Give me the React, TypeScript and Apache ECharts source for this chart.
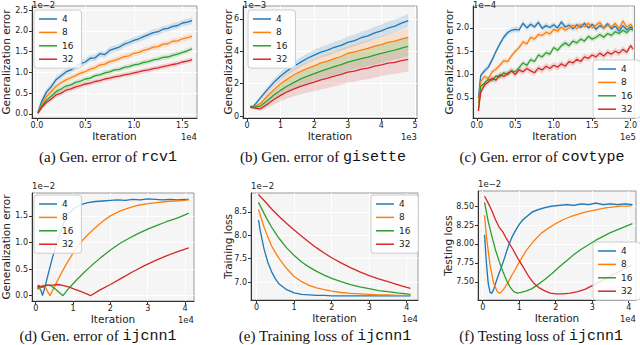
import React, { useEffect, useRef } from 'react';
import * as echarts from 'echarts';

const SERIES_NAMES = ['4', '8', '16', '32'];
const COLORS = ['#1f77b4', '#ff7f0e', '#2ca02c', '#d62728'];

// (a) Gen. error of rcv1  (x: 1e4, y: 1e-2)
const aX = [0.01, 0.05, 0.1, 0.15, 0.2, 0.25, 0.3, 0.35, 0.4, 0.45, 0.5, 0.55, 0.6, 0.65, 0.7, 0.75, 0.8, 0.85, 0.9, 0.95, 1.0, 1.05, 1.1, 1.15, 1.2, 1.25, 1.3, 1.35, 1.4, 1.45, 1.5, 1.55, 1.6];
const aY4 = [0.03, 0.30, 0.53, 0.66, 0.83, 0.92, 1.01, 1.06, 1.13, 1.21, 1.25, 1.34, 1.35, 1.45, 1.43, 1.53, 1.57, 1.61, 1.68, 1.72, 1.77, 1.81, 1.86, 1.91, 1.96, 1.98, 2.04, 2.06, 2.11, 2.13, 2.19, 2.21, 2.25];
const aY8 = [0.02, 0.22, 0.42, 0.54, 0.67, 0.75, 0.82, 0.87, 0.92, 0.98, 1.02, 1.08, 1.11, 1.18, 1.20, 1.26, 1.29, 1.33, 1.38, 1.40, 1.46, 1.48, 1.53, 1.56, 1.61, 1.62, 1.68, 1.69, 1.75, 1.76, 1.81, 1.84, 1.87];
const aY16 = [0.02, 0.18, 0.33, 0.43, 0.54, 0.60, 0.67, 0.70, 0.76, 0.79, 0.84, 0.86, 0.92, 0.94, 0.99, 1.01, 1.06, 1.07, 1.12, 1.14, 1.18, 1.20, 1.24, 1.26, 1.30, 1.32, 1.36, 1.37, 1.41, 1.44, 1.48, 1.52, 1.57];
const aY32 = [0.02, 0.15, 0.28, 0.36, 0.46, 0.50, 0.57, 0.60, 0.65, 0.68, 0.72, 0.74, 0.78, 0.80, 0.84, 0.86, 0.89, 0.91, 0.94, 0.96, 0.99, 1.01, 1.04, 1.06, 1.09, 1.11, 1.14, 1.16, 1.19, 1.21, 1.25, 1.27, 1.31];
const aSpread = [0.08, 0.07, 0.06, 0.06];

// (b) Gen. error of gisette  (x: 1e3, y: 1e-3)
const bX = [0.1, 0.2, 0.4, 0.6, 0.8, 1.0, 1.2, 1.4, 1.6, 1.8, 2.0, 2.2, 2.4, 2.6, 2.8, 3.0, 3.2, 3.4, 3.6, 3.8, 4.0, 4.2, 4.4, 4.6, 4.8];
const bY4 = [0.55, 0.62, 1.12, 1.62, 2.08, 2.47, 2.80, 3.08, 3.33, 3.57, 3.77, 3.95, 4.07, 4.25, 4.37, 4.55, 4.66, 4.84, 4.96, 5.14, 5.26, 5.44, 5.56, 5.74, 5.90];
const bY8 = [0.55, 0.55, 0.78, 1.22, 1.62, 2.00, 2.28, 2.55, 2.76, 2.95, 3.10, 3.28, 3.40, 3.55, 3.68, 3.88, 3.96, 4.08, 4.18, 4.32, 4.42, 4.55, 4.63, 4.76, 4.86];
const bY16 = [0.60, 0.55, 0.62, 0.95, 1.30, 1.60, 1.86, 2.08, 2.30, 2.47, 2.62, 2.78, 2.92, 3.06, 3.18, 3.33, 3.44, 3.55, 3.64, 3.76, 3.88, 3.98, 4.08, 4.20, 4.30];
const bY32 = [0.55, 0.50, 0.45, 0.72, 1.02, 1.28, 1.50, 1.68, 1.84, 1.98, 2.10, 2.24, 2.34, 2.47, 2.57, 2.72, 2.78, 2.90, 2.96, 3.08, 3.16, 3.27, 3.32, 3.42, 3.50];
const bS4 = [0.08, 0.1, 0.15, 0.2, 0.22, 0.25, 0.27, 0.28, 0.3, 0.3, 0.32, 0.33, 0.34, 0.35, 0.35, 0.36, 0.37, 0.37, 0.38, 0.38, 0.39, 0.4, 0.4, 0.4, 0.42];
const bS8 = [0.08, 0.1, 0.15, 0.22, 0.27, 0.3, 0.33, 0.36, 0.38, 0.4, 0.42, 0.43, 0.45, 0.46, 0.47, 0.48, 0.49, 0.5, 0.5, 0.51, 0.52, 0.52, 0.53, 0.54, 0.55];
const bS16 = [0.08, 0.1, 0.14, 0.22, 0.28, 0.33, 0.36, 0.4, 0.42, 0.44, 0.46, 0.48, 0.5, 0.51, 0.52, 0.53, 0.54, 0.55, 0.56, 0.57, 0.58, 0.58, 0.59, 0.6, 0.6];
const bS32 = [0.08, 0.1, 0.12, 0.22, 0.3, 0.36, 0.42, 0.46, 0.5, 0.53, 0.56, 0.58, 0.6, 0.62, 0.63, 0.65, 0.66, 0.67, 0.68, 0.69, 0.7, 0.71, 0.72, 0.73, 0.74];

// (c) Gen. error of covtype  (x: 1e5, y: 1e-4)
const cX = [0.02, 0.05, 0.10, 0.15, 0.20, 0.25, 0.30, 0.35, 0.40, 0.45, 0.50, 0.55, 0.60, 0.65, 0.70, 0.75, 0.80, 0.85, 0.90, 0.95, 1.00, 1.05, 1.10, 1.15, 1.20, 1.25, 1.30, 1.35, 1.40, 1.45, 1.50, 1.55, 1.60, 1.65, 1.70, 1.75, 1.80, 1.85, 1.90, 1.95, 2.00, 2.03];
const cY4 = [0.50, 0.98, 1.08, 1.16, 1.32, 1.50, 1.66, 1.80, 1.90, 1.95, 1.97, 1.96, 2.10, 2.00, 2.08, 2.02, 2.12, 1.99, 2.05, 2.01, 2.07, 2.00, 2.13, 2.02, 2.06, 1.98, 2.07, 2.01, 2.10, 2.00, 2.08, 1.97, 2.05, 2.00, 2.09, 1.98, 2.04, 1.93, 2.05, 1.96, 2.02, 1.98];
const cY8 = [0.40, 0.85, 0.96, 0.92, 1.06, 1.12, 1.20, 1.30, 1.28, 1.40, 1.50, 1.58, 1.70, 1.66, 1.80, 1.76, 1.86, 1.84, 1.91, 1.87, 1.97, 1.93, 2.02, 1.95, 2.00, 2.06, 1.98, 2.08, 2.02, 2.10, 2.00, 2.06, 2.12, 1.99, 2.06, 2.02, 2.10, 1.99, 2.15, 2.02, 2.08, 2.00];
const cY16 = [0.22, 0.75, 0.82, 0.90, 0.88, 0.97, 0.95, 1.04, 1.00, 1.08, 1.06, 1.15, 1.25, 1.20, 1.32, 1.28, 1.42, 1.38, 1.47, 1.44, 1.58, 1.52, 1.62, 1.68, 1.62, 1.72, 1.68, 1.76, 1.72, 1.82, 1.76, 1.80, 1.86, 1.80, 1.88, 1.84, 1.92, 1.88, 1.95, 1.90, 1.98, 1.95];
const cY32 = [0.22, 0.62, 0.78, 0.84, 0.92, 0.88, 1.00, 0.96, 1.03, 1.08, 1.00, 1.10, 1.06, 1.13, 1.08, 1.04, 1.14, 1.10, 1.18, 1.13, 1.20, 1.16, 1.23, 1.18, 1.28, 1.25, 1.33, 1.28, 1.38, 1.35, 1.42, 1.38, 1.46, 1.40, 1.48, 1.44, 1.50, 1.46, 1.54, 1.48, 1.62, 1.55];
const cSpread = [0.06, 0.06, 0.06, 0.07];

// (d) Gen. error of ijcnn1  (x: 1e4, y: 1e-2)
const dX4 = [0.05, 0.08, 0.11, 0.15, 0.18, 0.25, 0.35, 0.45, 0.55, 0.65, 0.75, 0.85, 1.0, 1.2, 1.4, 1.6, 1.8, 2.0, 2.2, 2.4, 2.6, 2.8, 3.0, 3.2, 3.4, 3.6, 3.8, 4.0, 4.1];
const dY4 = [0.15, 0.20, 0.14, 0.08, 0.00, 0.17, 0.45, 0.72, 0.95, 1.17, 1.36, 1.52, 1.63, 1.71, 1.75, 1.77, 1.78, 1.79, 1.80, 1.79, 1.81, 1.80, 1.82, 1.81, 1.80, 1.81, 1.80, 1.81, 1.81];
const dX8 = [0.05, 0.1, 0.15, 0.2, 0.25, 0.3, 0.38, 0.5, 0.6, 0.8, 1.0, 1.2, 1.4, 1.6, 1.8, 2.0, 2.25, 2.5, 2.75, 3.0, 3.25, 3.5, 3.75, 4.0, 4.1];
const dY8 = [0.15, 0.12, 0.18, 0.20, 0.17, 0.10, 0.00, 0.17, 0.31, 0.57, 0.80, 1.00, 1.15, 1.28, 1.40, 1.50, 1.59, 1.65, 1.70, 1.73, 1.75, 1.77, 1.78, 1.79, 1.80];
const dX16 = [0.05, 0.1, 0.2, 0.3, 0.4, 0.5, 0.6, 0.73, 0.9, 1.1, 1.3, 1.5, 1.75, 2.0, 2.25, 2.5, 2.75, 3.0, 3.25, 3.5, 3.75, 4.0, 4.1];
const dY16 = [0.12, 0.18, 0.16, 0.20, 0.19, 0.14, 0.08, 0.00, 0.15, 0.30, 0.44, 0.57, 0.72, 0.86, 0.98, 1.08, 1.17, 1.25, 1.32, 1.39, 1.45, 1.52, 1.55];
const dX32 = [0.05, 0.15, 0.3, 0.45, 0.6, 0.75, 0.9, 1.05, 1.2, 1.35, 1.47, 1.7, 2.0, 2.3, 2.6, 2.9, 3.2, 3.5, 3.8, 4.1];
const dY32 = [0.18, 0.16, 0.20, 0.20, 0.21, 0.19, 0.16, 0.12, 0.08, 0.04, 0.00, 0.10, 0.21, 0.33, 0.45, 0.56, 0.66, 0.75, 0.83, 0.90];

// (e) Training loss of ijcnn1  (x: 1e4, y: 1e-2)
const eX = [0.05, 0.1, 0.2, 0.3, 0.4, 0.5, 0.6, 0.8, 1.0, 1.2, 1.4, 1.6, 1.8, 2.0, 2.25, 2.5, 2.75, 3.0, 3.25, 3.5, 3.75, 4.0, 4.1];
const eY4 = [8.32, 8.08, 7.70, 7.42, 7.22, 7.07, 6.96, 6.84, 6.77, 6.74, 6.73, 6.72, 6.72, 6.71, 6.71, 6.71, 6.71, 6.71, 6.71, 6.71, 6.71, 6.71, 6.71];
const eY8 = [8.55, 8.42, 8.17, 7.96, 7.77, 7.63, 7.50, 7.29, 7.12, 7.01, 6.93, 6.88, 6.84, 6.81, 6.78, 6.76, 6.75, 6.74, 6.73, 6.73, 6.72, 6.72, 6.72];
const eY16 = [8.70, 8.62, 8.46, 8.31, 8.17, 8.05, 7.93, 7.73, 7.57, 7.43, 7.32, 7.23, 7.15, 7.08, 7.01, 6.95, 6.90, 6.86, 6.82, 6.80, 6.77, 6.75, 6.74];
const eY32 = [8.87, 8.82, 8.74, 8.65, 8.56, 8.48, 8.40, 8.25, 8.11, 7.98, 7.85, 7.73, 7.62, 7.52, 7.41, 7.31, 7.22, 7.14, 7.07, 7.01, 6.95, 6.89, 6.87];

// (f) Testing loss of ijcnn1  (x: 1e4, y: 1e-2)
const fX4 = [0.05, 0.1, 0.15, 0.2, 0.25, 0.3, 0.4, 0.5, 0.6, 0.7, 0.8, 0.9, 1.0, 1.1, 1.2, 1.35, 1.5, 1.7, 1.9, 2.1, 2.3, 2.5, 2.7, 2.9, 3.1, 3.3, 3.5, 3.7, 3.9, 4.1];
const fY4 = [8.12, 7.75, 7.48, 7.36, 7.35, 7.40, 7.55, 7.68, 7.82, 7.97, 8.09, 8.18, 8.26, 8.32, 8.36, 8.42, 8.45, 8.48, 8.50, 8.51, 8.52, 8.51, 8.53, 8.52, 8.54, 8.52, 8.53, 8.52, 8.53, 8.52];
const fX8 = [0.05, 0.1, 0.2, 0.3, 0.4, 0.45, 0.5, 0.6, 0.7, 0.8, 0.9, 1.0, 1.2, 1.4, 1.6, 1.8, 2.0, 2.2, 2.4, 2.6, 2.8, 3.0, 3.2, 3.4, 3.6, 3.8, 4.0, 4.1];
const fY8 = [8.38, 8.10, 7.72, 7.48, 7.37, 7.35, 7.36, 7.42, 7.50, 7.59, 7.67, 7.76, 7.92, 8.04, 8.14, 8.21, 8.27, 8.32, 8.36, 8.39, 8.42, 8.44, 8.46, 8.48, 8.49, 8.50, 8.50, 8.51];
const fX16 = [0.05, 0.15, 0.25, 0.35, 0.45, 0.55, 0.65, 0.75, 0.85, 0.95, 1.05, 1.2, 1.35, 1.5, 1.7, 1.9, 2.1, 2.3, 2.5, 2.7, 2.9, 3.1, 3.3, 3.5, 3.7, 3.9, 4.1];
const fY16 = [8.55, 8.30, 8.10, 7.92, 7.77, 7.64, 7.52, 7.43, 7.37, 7.35, 7.36, 7.38, 7.41, 7.46, 7.53, 7.61, 7.70, 7.78, 7.86, 7.93, 7.99, 8.05, 8.10, 8.15, 8.19, 8.23, 8.27];
const fX32 = [0.05, 0.15, 0.25, 0.35, 0.45, 0.55, 0.65, 0.8, 0.95, 1.1, 1.25, 1.4, 1.55, 1.7, 1.85, 2.0, 2.2, 2.4, 2.6, 2.8, 3.0, 3.2, 3.4, 3.6, 3.8, 4.0, 4.1];
const fY32 = [8.63, 8.54, 8.44, 8.32, 8.22, 8.16, 8.07, 7.95, 7.82, 7.70, 7.58, 7.48, 7.42, 7.38, 7.35, 7.34, 7.34, 7.35, 7.37, 7.40, 7.45, 7.50, 7.55, 7.60, 7.65, 7.70, 7.72];
const fSpread4 = 0.015;

// Axis ticks
const aXTicks = [0, 0.5, 1.0, 1.5];
const aYTicks = [0, 0.5, 1.0, 1.5, 2.0, 2.5];
const bXTicks = [0, 1, 2, 3, 4, 5];
const bYTicks = [0, 2, 4, 6];
const cXTicks = [0, 0.5, 1.0, 1.5, 2.0];
const cYTicks = [0.5, 1.0, 1.5, 2.0];
const dXTicks = [0, 1, 2, 3, 4];
const dYTicks = [0, 0.5, 1.0, 1.5];
const eXTicks = [0, 1, 2, 3, 4];
const eYTicks = [7.0, 7.5, 8.0, 8.5];
const fXTicks = [0, 1, 2, 3, 4];
const fYTicks = [7.5, 7.75, 8.0, 8.25, 8.5];

const FONT = 'DejaVu Sans';

type Line = { x: number[]; y: number[] };
type Band = { k: number; x: number[]; y: number[]; s: number[] };

const constSpread = (n: number, v: number) => new Array(n).fill(v);

const panels = [
  {
    grid: { left: 32, top: 6, width: 165, height: 112 },
    x: { min: -0.05, max: 1.65, ticks: aXTicks, d: 1 },
    y: { min: -0.1, max: 2.6, ticks: aYTicks, d: 1 },
    lines: [{ x: aX, y: aY4 }, { x: aX, y: aY8 }, { x: aX, y: aY16 }, { x: aX, y: aY32 }] as Line[],
    bands: [aY4, aY8, aY16, aY32].map((y, k) => ({ k, x: aX, y, s: constSpread(aX.length, aSpread[k]) })) as Band[],
    legend: { left: 34, top: 10 },
    yLabel: 'Generalization error', yLabelX: 6,
    xOff: '1e4', yOff: '1e\u22122',
    caption: { pre: '(a) Gen. error of ', mono: 'rcv1', x: 108, y: 157 },
  },
  {
    grid: { left: 243, top: 6, width: 174, height: 112 },
    x: { min: -0.12, max: 5.06, ticks: bXTicks, d: 0 },
    y: { min: -0.12, max: 6.8, ticks: bYTicks, d: 0 },
    lines: [{ x: bX, y: bY4 }, { x: bX, y: bY8 }, { x: bX, y: bY16 }, { x: bX, y: bY32 }] as Line[],
    bands: [
      { k: 0, x: bX, y: bY4, s: bS4 },
      { k: 1, x: bX, y: bY8, s: bS8 },
      { k: 2, x: bX, y: bY16, s: bS16 },
      { k: 3, x: bX, y: bY32, s: bS32 },
    ] as Band[],
    legend: { left: 248, top: 10 },
    yLabel: 'Generalization error', yLabelX: 228,
    xOff: '1e3', yOff: '1e\u22123',
    caption: { pre: '(b) Gen. error of ', mono: 'gisette', x: 323, y: 157 },
  },
  {
    grid: { left: 473, top: 6, width: 163, height: 112 },
    x: { min: -0.05, max: 2.05, ticks: cXTicks, d: 1 },
    y: { min: 0.07, max: 2.47, ticks: cYTicks, d: 1 },
    lines: [{ x: cX, y: cY4 }, { x: cX, y: cY8 }, { x: cX, y: cY16 }, { x: cX, y: cY32 }] as Line[],
    bands: [cY4, cY8, cY16, cY32].map((y, k) => ({ k, x: cX, y, s: constSpread(cX.length, cSpread[k]) })) as Band[],
    legend: { left: 593, top: 60 },
    yLabel: 'Generalization error', yLabelX: 449,
    xOff: '1e5', yOff: '1e\u22124',
    caption: { pre: '(c) Gen. error of ', mono: 'covtype', x: 542, y: 157 },
  },
  {
    grid: { left: 32, top: 193, width: 162, height: 108 },
    x: { min: -0.1, max: 4.24, ticks: dXTicks, d: 0 },
    y: { min: -0.1, max: 1.93, ticks: dYTicks, d: 1 },
    lines: [{ x: dX4, y: dY4 }, { x: dX8, y: dY8 }, { x: dX16, y: dY16 }, { x: dX32, y: dY32 }] as Line[],
    bands: [] as Band[],
    legend: { left: 34, top: 195 },
    yLabel: 'Generalization error', yLabelX: 6,
    xOff: '1e4', yOff: '1e\u22122',
    caption: { pre: '(d) Gen. error of ', mono: 'ijcnn1', x: 98, y: 336 },
  },
  {
    grid: { left: 251, top: 193, width: 167, height: 107 },
    x: { min: -0.15, max: 4.3, ticks: eXTicks, d: 0 },
    y: { min: 6.62, max: 8.9, ticks: eYTicks, d: 1 },
    lines: [{ x: eX, y: eY4 }, { x: eX, y: eY8 }, { x: eX, y: eY16 }, { x: eX, y: eY32 }] as Line[],
    bands: [] as Band[],
    legend: { left: 371, top: 195 },
    yLabel: 'Training loss', yLabelX: 228,
    xOff: '1e4', yOff: '1e\u22122',
    caption: { pre: '(e) Training loss of ', mono: 'ijcnn1', x: 325, y: 336 },
  },
  {
    grid: { left: 478, top: 191, width: 158, height: 109 },
    x: { min: -0.13, max: 4.2, ticks: fXTicks, d: 0 },
    y: { min: 7.26, max: 8.7, ticks: fYTicks, d: 2 },
    lines: [{ x: fX4, y: fY4 }, { x: fX8, y: fY8 }, { x: fX16, y: fY16 }, { x: fX32, y: fY32 }] as Line[],
    bands: [{ k: 0, x: fX4, y: fY4, s: constSpread(fX4.length, fSpread4) }] as Band[],
    legend: { left: 593, top: 242 },
    yLabel: 'Testing loss', yLabelX: 448,
    xOff: '1e4', yOff: '1e\u22122',
    caption: { pre: '(f) Testing loss of ', mono: 'ijcnn1', x: 541, y: 336 },
  },
];

function buildOption() {
  const grid: any[] = [];
  const xAxis: any[] = [];
  const yAxis: any[] = [];
  const series: any[] = [];
  const legend: any[] = [];
  const graphic: any[] = [];

  panels.forEach((p, i) => {
    grid.push({
      ...p.grid,
      show: true,
      backgroundColor: '#f5f5f5',
      borderColor: '#999',
      borderWidth: 1,
      containLabel: false,
    });
    const axisCommon = {
      axisLine: { show: true, onZero: false, lineStyle: { color: '#333', width: 1 } },
      splitLine: { show: true, lineStyle: { color: '#ffffff', width: 1 } },
    };
    xAxis.push({
      type: 'value', gridIndex: i, min: p.x.min, max: p.x.max,
      ...axisCommon,
      axisTick: { show: true, customValues: p.x.ticks, length: 3, lineStyle: { color: '#333' } },
      axisLabel: {
        customValues: p.x.ticks, margin: 3, fontSize: 8, fontFamily: FONT, color: '#222',
        formatter: (v: number) => v.toFixed(p.x.d),
      },
    });
    yAxis.push({
      type: 'value', gridIndex: i, min: p.y.min, max: p.y.max,
      ...axisCommon,
      axisTick: { show: true, customValues: p.y.ticks, length: 3, lineStyle: { color: '#333' } },
      axisLabel: {
        customValues: p.y.ticks, margin: 4, fontSize: 8, fontFamily: FONT, color: '#222',
        formatter: (v: number) => v.toFixed(p.y.d),
      },
    });

    p.bands.forEach((b) => {
      const hi = b.y.map((v, j) => v + b.s[j]);
      const lo = b.y.map((v, j) => v - b.s[j]);
      series.push({
        type: 'custom', name: 'band' + i + '_' + b.k, xAxisIndex: i, yAxisIndex: i,
        silent: true, z: 1, clip: true,
        data: [[b.x[0], b.y[0]]],
        renderItem: (_params: any, api: any) => {
          const pts: number[][] = [];
          for (let j = 0; j < b.x.length; j++) pts.push(api.coord([b.x[j], hi[j]]));
          for (let j = b.x.length - 1; j >= 0; j--) pts.push(api.coord([b.x[j], lo[j]]));
          return { type: 'polygon', shape: { points: pts }, style: { fill: COLORS[b.k], opacity: 0.17 } };
        },
      });
    });

    p.lines.forEach((l, k) => {
      series.push({
        type: 'line', name: SERIES_NAMES[k], xAxisIndex: i, yAxisIndex: i,
        showSymbol: false, symbol: 'none', z: 3, clip: true,
        lineStyle: { width: 1.3, color: COLORS[k] },
        itemStyle: { color: COLORS[k] },
        data: l.x.map((x, j) => [x, l.y[j]]),
      });
    });

    legend.push({
      data: SERIES_NAMES, orient: 'vertical', left: p.legend.left, top: p.legend.top,
      icon: 'rect', itemWidth: 18, itemHeight: 1.5, itemGap: 3.4, selectedMode: false,
      textStyle: { fontSize: 9, fontFamily: FONT, color: '#222', lineHeight: 10 },
      backgroundColor: 'rgba(255,255,255,0.85)', borderColor: '#cccccc', borderWidth: 1,
      borderRadius: 3, padding: [4, 8, 4, 5],
    });

    const g = p.grid;
    graphic.push({
      type: 'text', x: p.yLabelX, y: g.top + g.height / 2, rotation: Math.PI / 2,
      style: { text: p.yLabel, font: `10.5px "${FONT}"`, fill: '#222', align: 'center', verticalAlign: 'middle' },
    });
    graphic.push({
      type: 'text', x: g.left + g.width / 2, y: g.top + g.height + 18,
      style: { text: 'Iteration', font: `10.5px "${FONT}"`, fill: '#222', align: 'center', verticalAlign: 'middle' },
    });
    graphic.push({
      type: 'text', x: g.left + g.width, y: g.top + g.height + 19,
      style: { text: p.xOff, font: `8.5px "${FONT}"`, fill: '#222', align: 'right', verticalAlign: 'middle' },
    });
    graphic.push({
      type: 'text', x: g.left, y: Math.max(g.top - 7, 4.5),
      style: { text: p.yOff, font: `8.5px "${FONT}"`, fill: '#222', align: 'left', verticalAlign: 'middle' },
    });
    graphic.push({
      type: 'text', x: p.caption.x, y: p.caption.y,
      style: {
        text: `{s|${p.caption.pre}}{m|${p.caption.mono}}`,
        align: 'center', verticalAlign: 'middle',
        rich: {
          s: { fontFamily: 'Liberation Serif', fontSize: 15, fill: '#111', color: '#111' },
          m: { fontFamily: 'Liberation Mono', fontSize: 15, fill: '#111', color: '#111' },
        },
      },
    });
  });

  return { animation: false, backgroundColor: '#ffffff', grid, xAxis, yAxis, series, legend, graphic };
}

export default function App() {
  const ref = useRef<HTMLDivElement>(null);
  useEffect(() => {
    if (!ref.current) return;
    const chart = echarts.init(ref.current, undefined, { renderer: 'svg' });
    chart.setOption(buildOption() as any);
    return () => chart.dispose();
  }, []);
  return (
    <div
      ref={ref}
      style={{ position: 'fixed', left: 0, top: 0, width: 640, height: 345, background: '#fff' }}
    />
  );
}
